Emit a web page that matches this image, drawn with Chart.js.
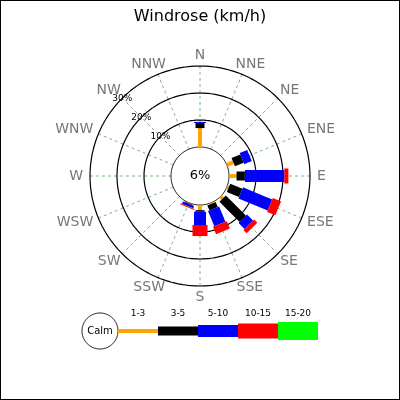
<!DOCTYPE html>
<html>
<head>
<script src="https://cdn.jsdelivr.net/npm/chart.js@4"></script>
<style>
body { margin: 0; background: #fff; }
canvas { display: block; }
</style>
</head>
<body>
<canvas id="rose" width="400" height="400"></canvas>
<script>
// wind rose values, percent of time
var directions = ['N', 'NNE', 'NE', 'ENE', 'E', 'ESE', 'SE', 'SSE', 'S', 'SSW', 'SW', 'WSW', 'W', 'WNW', 'NW', 'NNW'];
var speedBins = ['1-3', '3-5', '5-10', '10-15', '15-20'];
var calmPct = 6;
var speed1to3 = [7.0, 0, 0, 2.6, 2.8, 0.7, 1.1, 0.4, 1.9, 0.2, 0, 0, 0, 0, 0, 0];
var speed3to5 = [1.9, 0, 0, 3.5, 3.1, 4.9, 10.6, 2.0, 0.6, 0.2, 0, 0, 0, 0, 0, 0];
var speed5to10 = [0.4, 0, 0, 3.0, 14.6, 11.7, 3.1, 6.1, 4.9, 0.9, 0, 0, 0, 0, 0, 0];
var speed10to15 = [0, 0, 0, 0, 1.5, 3.3, 1.7, 3.0, 4.1, 0.4, 0, 0, 0, 0, 0, 0];
var speed15to20 = [0, 0, 0, 0, 0, 0, 0, 0, 0, 0, 0, 0, 0, 0, 0, 0];
var ringTicks = [10, 20, 30];

var series = [speed1to3, speed3to5, speed5to10, speed10to15, speed15to20];
var colors = ['orange', '#000000', '#0000ff', '#ff0000', '#00ff00'];
var widths = [4, 9, 12, 15, 18];

// geometry of the rose
var cx = 200, cy = 176, r0 = 29, k = 2.7;
function rad(p) { return r0 + k * p; }
function pt(r, i) {
    var a = i * Math.PI / 8;
    return { x: cx + r * Math.sin(a), y: cy - r * Math.cos(a) };
}
function circle(r, ox, oy) {
    var pts = [];
    for (var j = 0; j <= 120; j++) {
        var a = j * Math.PI / 60;
        pts.push({ x: ox + r * Math.cos(a), y: oy + r * Math.sin(a) });
    }
    return pts;
}

var datasets = [];
function line(data, color, width, order, dash) {
    datasets.push({
        type: 'line', data: data, borderColor: color, borderWidth: width,
        borderDash: dash || [], borderCapStyle: 'butt', pointRadius: 0,
        fill: false, tension: 0.0001, order: order
    });
}

// spokes and rings
directions.forEach(function (d, i) {
    line([pt(r0, i), pt(rad(30), i)], '#5a9f5a', 0.8, 200, [3, 3]);
});
line(circle(r0, cx, cy), '#000', 1, 150);
ringTicks.forEach(function (t) { line(circle(rad(t), cx, cy), '#000', 1.2, 150); });

// stacked bars
directions.forEach(function (d, i) {
    var acc = 0;
    series.forEach(function (s, b) {
        if (s[i] > 0) {
            line([pt(rad(acc), i), pt(rad(acc + s[i]), i)], colors[b], widths[b], 50 - b);
        }
        acc += s[i];
    });
});

// legend bar
var legX = 118, legY = 331, legStep = 40;
line(circle(18, 100, legY), '#000', 1, 100);
speedBins.forEach(function (b, j) {
    line([{ x: legX + j * legStep, y: legY }, { x: legX + (j + 1) * legStep, y: legY }], colors[j], widths[j], 90 - j);
});

var textPlugin = {
    id: 'roseText',
    afterDraw: function (chart) {
        var ctx = chart.ctx;
        ctx.save();
        ctx.textAlign = 'center';
        ctx.textBaseline = 'middle';
        ctx.fillStyle = '#000';
        ctx.font = '16px "DejaVu Sans"';
        ctx.fillText('Windrose (km/h)', 200, 17);
        ctx.font = '13px "DejaVu Sans"';
        ctx.fillText(calmPct + '%', cx, cy);
        ctx.fillStyle = '#777';
        ctx.font = '14px "DejaVu Sans"';
        directions.forEach(function (d, i) {
            var p = pt(rad(30) + 11, i);
            var w = ctx.measureText(d).width;
            ctx.fillText(d, p.x + Math.sin(i * Math.PI / 8) * (w / 2 - 4), p.y);
        });
        ctx.fillStyle = '#000';
        ctx.font = '9px "DejaVu Sans"';
        ringTicks.forEach(function (t) {
            var p = pt(rad(t), 14);
            ctx.fillText(t + '%', p.x, p.y);
        });
        speedBins.forEach(function (b, j) {
            ctx.fillText(b, legX + (j + 0.5) * legStep, 314);
        });
        ctx.font = '10px "DejaVu Sans"';
        ctx.fillText('Calm', 100, legY);
        ctx.strokeStyle = '#000';
        ctx.lineWidth = 1;
        ctx.strokeRect(0.5, 0.5, 399, 399);
        ctx.restore();
    }
};

new Chart(document.getElementById('rose'), {
    type: 'scatter',
    data: { datasets: datasets },
    options: {
        responsive: false,
        animation: false,
        layout: { padding: 0 },
        plugins: { legend: { display: false }, tooltip: { enabled: false } },
        scales: {
            x: { type: 'linear', min: 0, max: 400, display: false },
            y: { type: 'linear', min: 0, max: 400, reverse: true, display: false }
        }
    },
    plugins: [textPlugin]
});
</script>
</body>
</html>
